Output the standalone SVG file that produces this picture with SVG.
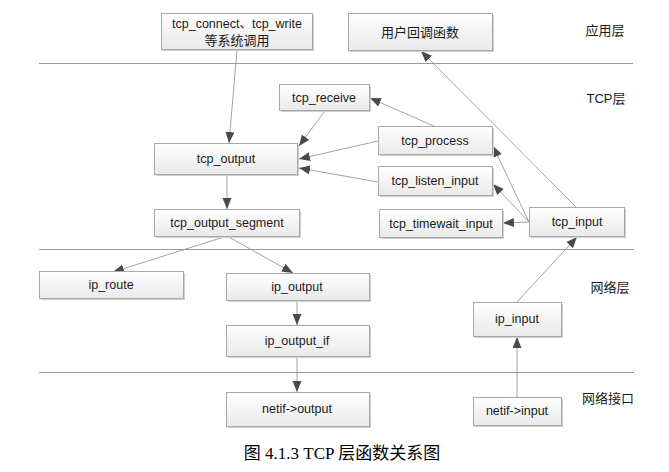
<svg xmlns="http://www.w3.org/2000/svg" width="669" height="472" viewBox="0 0 669 472">
<defs>
<linearGradient id="g" x1="0" y1="0" x2="0" y2="1">
<stop offset="0" stop-color="#ffffff"/>
<stop offset="1" stop-color="#e9e9e9"/>
</linearGradient>
<marker id="a" markerUnits="userSpaceOnUse" markerWidth="12" markerHeight="10" refX="11" refY="4.5" orient="auto">
<path d="M0,0 L11,4.5 L0,9 z" fill="#4a4a4a"/>
</marker>
</defs>
<style>
.sh{fill:#cfcfcf}
.b{fill:url(#g);stroke:#a8a8a8;stroke-width:1}
.t{font-family:"Liberation Sans","Noto Sans CJK SC",sans-serif;font-size:12.5px;fill:#1a1a1a;text-anchor:middle;dominant-baseline:central}
.c{font-family:"Liberation Sans","Noto Sans CJK SC",sans-serif;font-size:13px;fill:#1a1a1a;text-anchor:middle;dominant-baseline:central}
.sep{stroke:#9a9a9a;stroke-width:1}
.e{stroke:#8c8c8c;stroke-width:0.8;fill:none;marker-end:url(#a)}
.cap{font-family:"Liberation Serif","Noto Sans CJK SC",serif;font-size:17px;fill:#000;text-anchor:middle}
</style>
<rect width="669" height="472" fill="#fff"/>
<g id="separators">
<line class="sep" x1="39" y1="63.5" x2="633" y2="63.5"/>
<line class="sep" x1="39" y1="249.5" x2="634" y2="249.5"/>
<line class="sep" x1="39" y1="372.5" x2="634" y2="372.5"/>
</g>
<g id="layer-labels">
<text class="c" x="605" y="30">应用层</text>
<text class="c" x="606" y="98">TCP层</text>
<text class="c" x="610" y="287">网络层</text>
<text class="c" x="608" y="398">网络接口</text>
</g>
<g id="connectors">
<line class="e" x1="237" y1="50" x2="229" y2="143"/>
<line class="e" x1="324" y1="112" x2="299" y2="146"/>
<line class="e" x1="436" y1="127" x2="370" y2="98"/>
<line class="e" x1="378" y1="141" x2="299" y2="159"/>
<line class="e" x1="378" y1="182" x2="299" y2="168"/>
<line class="e" x1="529" y1="222" x2="503" y2="223"/>
<line class="e" x1="529" y1="222" x2="493" y2="184"/>
<line class="e" x1="529" y1="222" x2="493" y2="146"/>
<line class="e" x1="577" y1="208" x2="421" y2="51"/>
<line class="e" x1="227" y1="174" x2="227" y2="209"/>
<line class="e" x1="227" y1="236" x2="113" y2="272"/>
<line class="e" x1="227" y1="236" x2="293" y2="273"/>
<line class="e" x1="297" y1="300" x2="297" y2="325"/>
<line class="e" x1="297" y1="356" x2="297" y2="392"/>
<line class="e" x1="517" y1="397" x2="517" y2="337"/>
<line class="e" x1="517" y1="302" x2="577" y2="237"/>
</g>
<g id="n-syscall">
<rect class="sh" x="163" y="15" width="151" height="36"/>
<rect class="b" x="161.5" y="13.5" width="151" height="36"/>
<text class="t" x="237" y="23.5">tcp_connect、tcp_write</text>
<text class="c" x="237" y="40.5">等系统调用</text>
</g>
<g id="n-callback">
<rect class="sh" x="350" y="15" width="144" height="37"/>
<rect class="b" x="348.5" y="13.5" width="144" height="37"/>
<text class="c" x="420" y="32">用户回调函数</text>
</g>
<g id="n-tcp_receive">
<rect class="sh" x="281" y="86" width="90" height="26"/>
<rect class="b" x="279.5" y="84.5" width="90" height="26"/>
<text class="t" x="324" y="97.5">tcp_receive</text>
</g>
<g id="n-tcp_output">
<rect class="sh" x="156" y="145" width="143" height="31"/>
<rect class="b" x="154.5" y="143.5" width="143" height="31"/>
<text class="t" x="226" y="159">tcp_output</text>
</g>
<g id="n-tcp_process">
<rect class="sh" x="380" y="128" width="114" height="28"/>
<rect class="b" x="378.5" y="126.5" width="114" height="28"/>
<text class="t" x="435" y="140.5">tcp_process</text>
</g>
<g id="n-tcp_listen_input">
<rect class="sh" x="380" y="168" width="114" height="29"/>
<rect class="b" x="378.5" y="166.5" width="114" height="29"/>
<text class="t" x="435" y="181">tcp_listen_input</text>
</g>
<g id="n-tcp_timewait_input">
<rect class="sh" x="381" y="211" width="123" height="28"/>
<rect class="b" x="379.5" y="209.5" width="123" height="28"/>
<text class="t" x="441" y="223.5">tcp_timewait_input</text>
</g>
<g id="n-tcp_input">
<rect class="sh" x="531" y="209" width="95" height="29"/>
<rect class="b" x="529.5" y="207.5" width="95" height="29"/>
<text class="t" x="577" y="222">tcp_input</text>
</g>
<g id="n-tcp_output_segment">
<rect class="sh" x="156" y="211" width="145" height="27"/>
<rect class="b" x="154.5" y="209.5" width="145" height="27"/>
<text class="t" x="227" y="223">tcp_output_segment</text>
</g>
<g id="n-ip_route">
<rect class="sh" x="41" y="273" width="144" height="27"/>
<rect class="b" x="39.5" y="271.5" width="144" height="27"/>
<text class="t" x="111" y="285">ip_route</text>
</g>
<g id="n-ip_output">
<rect class="sh" x="228" y="275" width="143" height="27"/>
<rect class="b" x="226.5" y="273.5" width="143" height="27"/>
<text class="t" x="297" y="287">ip_output</text>
</g>
<g id="n-ip_input">
<rect class="sh" x="475" y="304" width="88" height="34"/>
<rect class="b" x="473.5" y="302.5" width="88" height="34"/>
<text class="t" x="517" y="319">ip_input</text>
</g>
<g id="n-ip_output_if">
<rect class="sh" x="228" y="327" width="143" height="31"/>
<rect class="b" x="226.5" y="325.5" width="143" height="31"/>
<text class="t" x="297" y="341">ip_output_if</text>
</g>
<g id="n-netif_output">
<rect class="sh" x="228" y="394" width="143" height="34"/>
<rect class="b" x="226.5" y="392.5" width="143" height="34"/>
<text class="t" x="297" y="409">netif-&gt;output</text>
</g>
<g id="n-netif_input">
<rect class="sh" x="475" y="399" width="88" height="28"/>
<rect class="b" x="473.5" y="397.5" width="88" height="28"/>
<text class="t" x="517" y="411">netif-&gt;input</text>
</g>
<text class="cap" x="342" y="459">图 4.1.3 TCP 层函数关系图</text>
</svg>
